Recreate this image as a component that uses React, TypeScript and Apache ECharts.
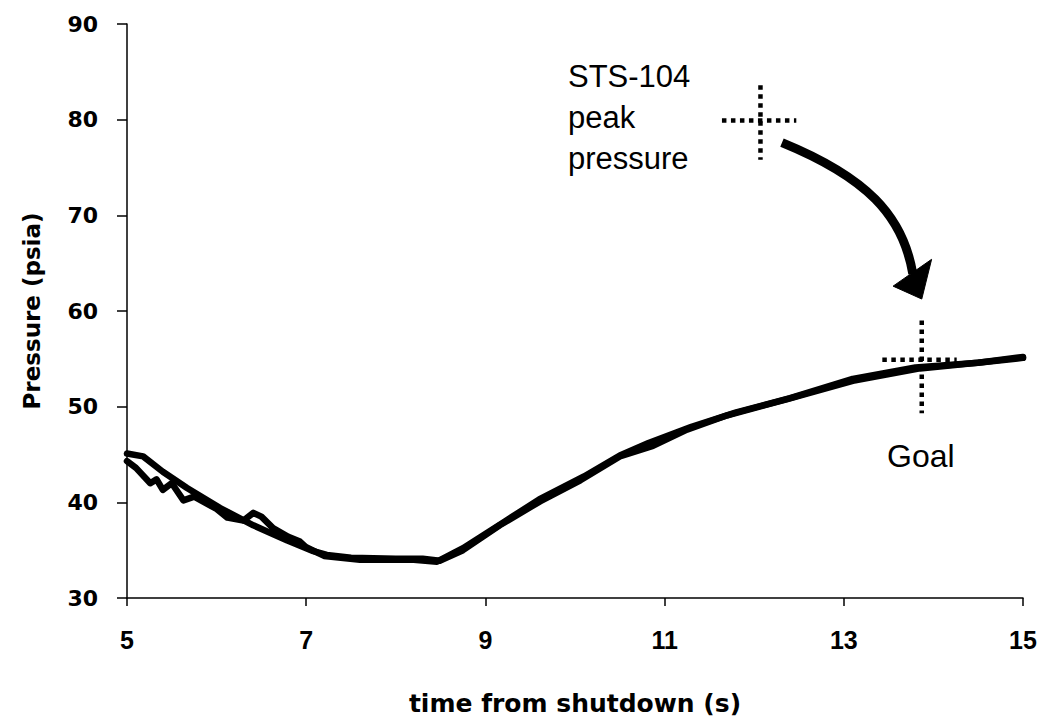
import React, { useEffect, useRef } from "react";
import * as echarts from "echarts";

// Run A: smoother trace (time s, pressure psia)
const runA: [number, number][] = [
  [5.0, 45.1], [5.18, 44.8], [5.4, 43.2], [5.67, 41.5], [6.04, 39.4],
  [6.41, 37.6], [6.79, 36.0], [7.08, 34.9], [7.23, 34.5], [7.5, 34.2],
  [8.0, 34.1], [8.3, 34.1], [8.49, 33.9], [8.75, 35.0], [9.16, 37.6],
  [9.61, 40.1], [10.06, 42.3], [10.5, 44.8], [10.87, 45.9], [11.25, 47.6],
  [11.7, 49.1], [12.37, 50.8], [13.1, 52.7], [13.85, 54.0], [14.6, 54.7],
  [15.0, 55.1],
];

// Run B: noisier trace
const runB: [number, number][] = [
  [5.0, 44.3], [5.1, 43.6], [5.26, 42.0], [5.33, 42.4], [5.4, 41.3],
  [5.5, 42.0], [5.63, 40.2], [5.75, 40.6], [6.0, 39.3], [6.12, 38.4],
  [6.3, 38.1], [6.41, 38.9], [6.5, 38.5], [6.63, 37.3], [6.8, 36.4],
  [6.93, 35.9], [7.0, 35.3], [7.2, 34.4], [7.6, 34.0], [8.2, 34.0],
  [8.46, 33.8], [8.75, 35.2], [9.2, 37.9], [9.6, 40.3], [10.1, 42.7],
  [10.5, 44.9], [10.82, 46.2], [11.3, 47.9], [11.8, 49.4], [12.4, 50.9],
  [13.1, 52.9], [13.8, 54.1], [14.5, 54.6], [15.0, 55.2],
];

// Crosshair markers
const stsPeakH: [number, number][] = [[11.64, 79.9], [12.47, 79.9]];
const stsPeakV: [number, number][] = [[12.07, 83.6], [12.07, 75.8]];
const goalH: [number, number][] = [[13.43, 54.9], [14.26, 54.9]];
const goalV: [number, number][] = [[13.87, 59.0], [13.87, 49.3]];

// Curved arrow from STS-104 peak toward goal (data coordinates)
const arrowShaft: [number, number][] = [[12.31, 77.6], [13.25, 74.0], [13.66, 70.0], [13.77, 63.9]];
const arrowHead: [number, number][] = [[13.55, 62.6], [13.98, 65.4], [13.87, 61.25]];

const xMin = 5, xMax = 15, xStep = 2;
const yMin = 30, yMax = 90, yStep = 10;

export default function App() {
  const ref = useRef<HTMLDivElement>(null);
  useEffect(() => {
    const chart = echarts.init(ref.current!, null, { renderer: "svg" });
    const dotted = { color: "#000", width: 4.5, type: [4.5, 4.5] as number[], cap: "butt" as const };
    const cross = (data: [number, number][]) => ({
      type: "line", data, symbol: "none", silent: true, z: 3,
      lineStyle: dotted,
    });
    const traceStyle = { color: "#000", width: 6.5, join: "round", cap: "round" };
    chart.setOption({
      animation: false,
      backgroundColor: "#fff",
      grid: { left: 127, right: 18, top: 24, bottom: 121, containLabel: false },
      xAxis: {
        type: "value", min: xMin, max: xMax, interval: xStep,
        name: "time from shutdown (s)", nameLocation: "middle", nameGap: 93,
        nameTextStyle: { fontFamily: "DejaVu Sans", fontWeight: "bold", fontSize: 25, color: "#000" },
        axisLine: { show: true, lineStyle: { color: "#000", width: 1.5 } },
        axisTick: { show: true, inside: false, length: 8, lineStyle: { color: "#000", width: 1.5 } },
        axisLabel: { margin: 29, fontFamily: "Liberation Sans", fontWeight: "bold", fontSize: 25, color: "#000" },
        splitLine: { show: false },
      },
      yAxis: {
        type: "value", min: yMin, max: yMax, interval: yStep,
        name: "Pressure (psia)", nameLocation: "middle", nameGap: 84, nameRotate: 90,
        nameTextStyle: { fontFamily: "DejaVu Sans", fontWeight: "bold", fontSize: 23, color: "#000" },
        axisLine: { show: true, lineStyle: { color: "#000", width: 1.5 } },
        axisTick: { show: true, inside: false, length: 10, lineStyle: { color: "#000", width: 1.5 } },
        axisLabel: { margin: 29, fontFamily: "DejaVu Sans", fontWeight: "bold", fontSize: 22, color: "#000" },
        splitLine: { show: false },
      },
      series: [
        { type: "line", data: runA, symbol: "none", silent: true, z: 2, lineStyle: traceStyle },
        { type: "line", data: runB, symbol: "none", silent: true, z: 2, lineStyle: traceStyle },
        cross(stsPeakH), cross(stsPeakV), cross(goalH), cross(goalV),
      ],
    });

    const px = (p: [number, number]) => chart.convertToPixel({ gridIndex: 0 }, p) as number[];
    const [s0, c1, c2, s1] = arrowShaft.map(px);
    const head = arrowHead.map(px);
    chart.setOption({
      graphic: [
        {
          type: "text", left: 568, top: 56, silent: true,
          style: {
            text: "STS-104\npeak\npressure",
            font: "31px 'Liberation Sans', Arial, sans-serif",
            lineHeight: 41, fill: "#000",
          },
        },
        {
          type: "text", left: 887, top: 440, silent: true,
          style: { text: "Goal", font: "32px 'Liberation Sans', Arial, sans-serif", fill: "#000" },
        },
        {
          type: "bezierCurve", silent: true, z: 10,
          shape: { x1: s0[0], y1: s0[1], cpx1: c1[0], cpy1: c1[1], cpx2: c2[0], cpy2: c2[1], x2: s1[0], y2: s1[1] },
          style: { stroke: "#000", lineWidth: 9, fill: null, lineCap: "butt" },
        },
        {
          type: "polygon", silent: true, z: 10,
          shape: { points: head },
          style: { fill: "#000", stroke: "#000", lineWidth: 1 },
        },
      ],
    });
    return () => chart.dispose();
  }, []);
  return <div ref={ref} style={{ position: "fixed", left: 0, top: 0, width: 1041, height: 721 }} />;
}
